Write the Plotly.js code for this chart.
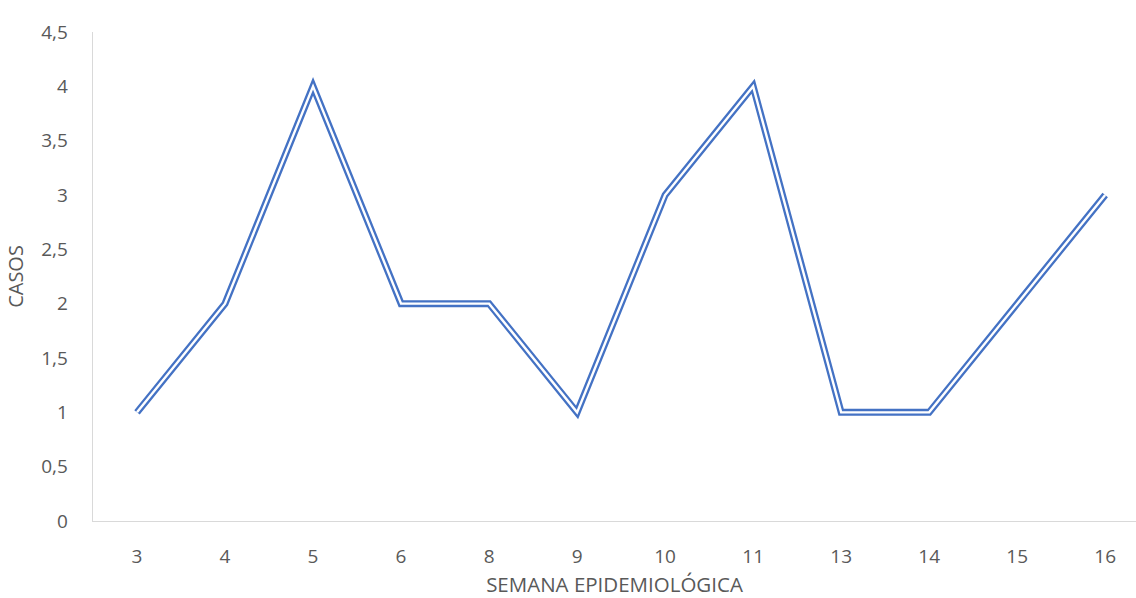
<!DOCTYPE html>
<html>
<head>
<meta charset="utf-8">
<script src="https://cdn.plot.ly/plotly-3.0.1.min.js"></script>
<style>
html,body{margin:0;padding:0;overflow:hidden;background:#fff;}
#chart path.js-line{stroke-linejoin:miter !important;stroke-miterlimit:10;}
</style>
</head>
<body>
<div id="chart" style="width:1136px;height:598px;"></div>
<script>
const semanas = ["3","4","5","6","8","9","10","11","13","14","15","16"];
const casos = [1, 2, 4, 2, 2, 1, 3, 4, 1, 1, 2, 3];
const yTicks = [0, 0.5, 1, 1.5, 2, 2.5, 3, 3.5, 4, 4.5];
const yTickText = ["0", "0,5", "1", "1,5", "2", "2,5", "3", "3,5", "4", "4,5"];

const fam = "Open Sans, Liberation Sans, sans-serif";
const grey = "#595959";

const traces = [
  {x: semanas, y: casos, type: "scatter", mode: "lines",
   line: {color: "#4472C4", width: 7, shape: "linear"}, hoverinfo: "skip", showlegend: false},
  {x: semanas, y: casos, type: "scatter", mode: "lines",
   line: {color: "#ffffff", width: 2.4, shape: "linear"}, hoverinfo: "skip", showlegend: false}
];

const layout = {
  width: 1136, height: 598,
  margin: {l: 93, r: 0, t: 32, b: 77},
  paper_bgcolor: "#fff", plot_bgcolor: "#fff",
  font: {family: fam, color: grey, size: 18},
  showlegend: false,
  xaxis: {
    type: "category",
    range: [-0.5, 11.35],
    showgrid: false, zeroline: false,
    showline: true, linecolor: "#d9d9d9", linewidth: 1.3,
    ticks: "", ticklabelstandoff: 18,
    tickfont: {family: fam, color: grey, size: 19},
    title: {text: "SEMANA EPIDEMIOLÓGICA", font: {family: fam, color: grey, size: 20.5}, standoff: 21}
  },
  yaxis: {
    range: [0, 4.5],
    tickvals: yTicks, ticktext: yTickText,
    showgrid: false, zeroline: false,
    showline: true, linecolor: "#d9d9d9", linewidth: 1.3,
    ticks: "", ticklabelstandoff: 20,
    tickfont: {family: fam, color: grey, size: 19},
    title: {text: "CASOS", font: {family: fam, color: grey, size: 20}, standoff: 12}
  }
};

Plotly.newPlot("chart", traces, layout, {displayModeBar: false, staticPlot: true});
</script>
</body>
</html>
